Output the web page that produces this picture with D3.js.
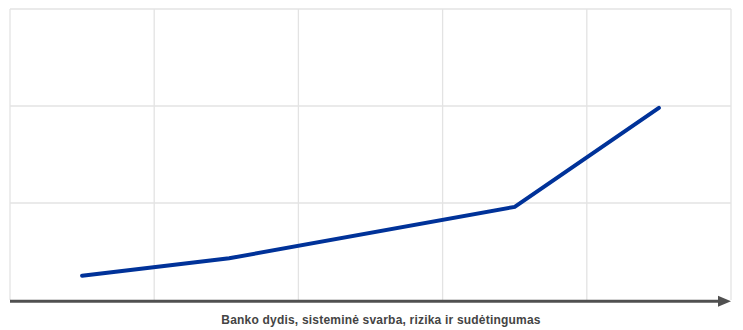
<!DOCTYPE html>
<html><head><meta charset="utf-8">
<script src="https://cdn.jsdelivr.net/npm/d3@7"></script>
<style>body{margin:0;background:#fff}svg{display:block}</style>
</head><body>
<svg id="c" width="743" height="330"></svg>
<script>
const xPositions = [0.5, 1.52, 3.5, 4.5];
const values = [0.25, 0.43, 0.96, 1.98];
const xGrid = [0, 1, 2, 3, 4, 5];
const yGrid = [1, 2, 3];
const axisTitle = "Banko dydis, sisteminė svarba, rizika ir sudėtingumas";

const svg = d3.select("#c");
const x = d3.scaleLinear().domain([0, 5]).range([10, 731]);
const y = d3.scaleLinear().domain([0, 3]).range([300, 9]);

svg.append("g").selectAll("line").data(xGrid).join("line")
  .attr("x1", d => x(d)).attr("x2", d => x(d))
  .attr("y1", y(3)).attr("y2", y(0))
  .attr("stroke", "#e3e3e3").attr("stroke-width", 1.3);
svg.append("g").selectAll("line").data(yGrid).join("line")
  .attr("x1", x(0)).attr("x2", x(5))
  .attr("y1", d => y(d)).attr("y2", d => y(d))
  .attr("stroke", "#e3e3e3").attr("stroke-width", 1.3);

// axis with arrow
svg.append("line").attr("x1", x(0)).attr("x2", x(5) - 12)
  .attr("y1", y(0) + 1.2).attr("y2", y(0) + 1.2)
  .attr("stroke", "#505050").attr("stroke-width", 3);
svg.append("path")
  .attr("d", `M${x(5)-13},${y(0)+1.2-5.5}L${x(5)},${y(0)+1.2}L${x(5)-13},${y(0)+1.2+5.5}Z`)
  .attr("fill", "#505050");

const line = d3.line().x((d, i) => x(xPositions[i])).y(d => y(d));
svg.append("path").datum(values).attr("d", line)
  .attr("fill", "none").attr("stroke", "#003299").attr("stroke-width", 4)
  .attr("stroke-linecap", "round").attr("stroke-linejoin", "miter");

svg.append("text").attr("x", 381).attr("y", 324)
  .attr("text-anchor", "middle")
  .attr("font-family", "Liberation Sans, Arial, sans-serif")
  .attr("font-size", 12).attr("font-weight", "bold")
  .attr("letter-spacing", 0.2)
  .attr("fill", "#444")
  .text(axisTitle);
</script>
</body></html>
